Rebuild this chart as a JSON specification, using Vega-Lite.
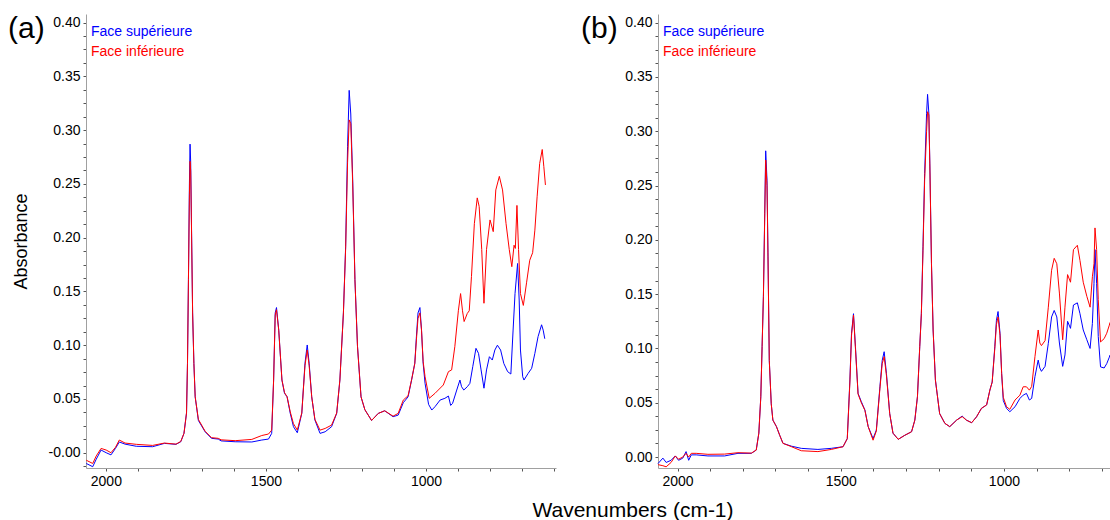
{
"$schema": "https://vega.github.io/schema/vega-lite/v6.json",
"padding": {"left": 8, "top": 14, "right": 0, "bottom": 0},
"config": {
  "font": "Liberation Sans",
  "view": {"stroke": null},
  "axis": {"labelFont": "Liberation Sans", "labelFontSize": 14, "labelColor": "#000000", "titleFont": "Liberation Sans", "titleFontSize": 18, "titleFontWeight": "normal", "titleColor": "#000000", "domainColor": "#a0a0a0", "tickColor": "#555555", "tickSize": 3, "grid": false, "labelOverlap": false, "labelPadding": 3, "labelFlush": false},
  "legend": {"labelFont": "Liberation Sans", "labelFontSize": 14}
},
"title": {"text": "Wavenumbers (cm-1)", "orient": "bottom", "anchor": "middle", "fontSize": 21, "fontWeight": "normal", "font": "Liberation Sans", "color": "#000000", "offset": 12, "dx": 73},
"datasets": {
"a": [
{"s":"Face supérieure","w":2061,"A":-0.010},{"s":"Face supérieure","w":2041,"A":-0.013},{"s":"Face supérieure","w":2030,"A":-0.006},{"s":"Face supérieure","w":2015,"A":0.0025},{"s":"Face supérieure","w":1999,"A":0.000},{"s":"Face supérieure","w":1984,"A":-0.002},{"s":"Face supérieure","w":1970,"A":0.004},{"s":"Face supérieure","w":1958,"A":0.010},{"s":"Face supérieure","w":1940,"A":0.008},{"s":"Face supérieure","w":1905,"A":0.006},{"s":"Face supérieure","w":1854,"A":0.0056},{"s":"Face supérieure","w":1817,"A":0.0087},{"s":"Face supérieure","w":1781,"A":0.0078},{"s":"Face supérieure","w":1766,"A":0.0102},{"s":"Face supérieure","w":1756,"A":0.018},{"s":"Face supérieure","w":1748,"A":0.037},{"s":"Face supérieure","w":1745,"A":0.083},{"s":"Face supérieure","w":1742,"A":0.161},{"s":"Face supérieure","w":1739,"A":0.25},{"s":"Face supérieure","w":1737,"A":0.287},{"s":"Face supérieure","w":1735,"A":0.27},{"s":"Face supérieure","w":1733,"A":0.223},{"s":"Face supérieure","w":1729,"A":0.130},{"s":"Face supérieure","w":1725,"A":0.083},{"s":"Face supérieure","w":1721,"A":0.052},{"s":"Face supérieure","w":1711,"A":0.030},{"s":"Face supérieure","w":1690,"A":0.0195},{"s":"Face supérieure","w":1670,"A":0.0134},{"s":"Face supérieure","w":1649,"A":0.0127},{"s":"Face supérieure","w":1640,"A":0.011},{"s":"Face supérieure","w":1596,"A":0.0102},{"s":"Face supérieure","w":1544,"A":0.0100},{"s":"Face supérieure","w":1513,"A":0.0118},{"s":"Face supérieure","w":1492,"A":0.0127},{"s":"Face supérieure","w":1482,"A":0.018},{"s":"Face supérieure","w":1476,"A":0.0676},{"s":"Face supérieure","w":1471,"A":0.13},{"s":"Face supérieure","w":1467,"A":0.135},{"s":"Face supérieure","w":1460,"A":0.114},{"s":"Face supérieure","w":1450,"A":0.0676},{"s":"Face supérieure","w":1442,"A":0.0552},{"s":"Face supérieure","w":1434,"A":0.0521},{"s":"Face supérieure","w":1424,"A":0.0366},{"s":"Face supérieure","w":1414,"A":0.0242},{"s":"Face supérieure","w":1402,"A":0.0186},{"s":"Face supérieure","w":1388,"A":0.0366},{"s":"Face supérieure","w":1378,"A":0.0833},{"s":"Face supérieure","w":1371,"A":0.1002},{"s":"Face supérieure","w":1365,"A":0.0833},{"s":"Face supérieure","w":1357,"A":0.052},{"s":"Face supérieure","w":1347,"A":0.0304},{"s":"Face supérieure","w":1331,"A":0.018},{"s":"Face supérieure","w":1315,"A":0.0195},{"s":"Face supérieure","w":1295,"A":0.0242},{"s":"Face supérieure","w":1279,"A":0.0366},{"s":"Face supérieure","w":1269,"A":0.0676},{"s":"Face supérieure","w":1258,"A":0.13},{"s":"Face supérieure","w":1251,"A":0.192},{"s":"Face supérieure","w":1245,"A":0.285},{"s":"Face supérieure","w":1240,"A":0.337},{"s":"Face supérieure","w":1235,"A":0.315},{"s":"Face supérieure","w":1229,"A":0.254},{"s":"Face supérieure","w":1222,"A":0.161},{"s":"Face supérieure","w":1214,"A":0.099},{"s":"Face supérieure","w":1203,"A":0.052},{"s":"Face supérieure","w":1191,"A":0.040},{"s":"Face supérieure","w":1170,"A":0.030},{"s":"Face supérieure","w":1149,"A":0.0366},{"s":"Face supérieure","w":1129,"A":0.039},{"s":"Face supérieure","w":1103,"A":0.0335},{"s":"Face supérieure","w":1087,"A":0.035},{"s":"Face supérieure","w":1071,"A":0.0465},{"s":"Face supérieure","w":1056,"A":0.052},{"s":"Face supérieure","w":1045,"A":0.0676},{"s":"Face supérieure","w":1035,"A":0.0833},{"s":"Face supérieure","w":1030,"A":0.108},{"s":"Face supérieure","w":1025,"A":0.13},{"s":"Face supérieure","w":1019,"A":0.135},{"s":"Face supérieure","w":1014,"A":0.114},{"s":"Face supérieure","w":1009,"A":0.0833},{"s":"Face supérieure","w":1003,"A":0.0645},{"s":"Face supérieure","w":992,"A":0.045},{"s":"Face supérieure","w":982,"A":0.0397},{"s":"Face supérieure","w":972,"A":0.0428},{"s":"Face supérieure","w":956,"A":0.049},{"s":"Face supérieure","w":941,"A":0.0506},{"s":"Face supérieure","w":930,"A":0.0527},{"s":"Face supérieure","w":923,"A":0.044},{"s":"Face supérieure","w":917,"A":0.0459},{"s":"Face supérieure","w":904,"A":0.0583},{"s":"Face supérieure","w":894,"A":0.0676},{"s":"Face supérieure","w":889,"A":0.0614},{"s":"Face supérieure","w":882,"A":0.0583},{"s":"Face supérieure","w":871,"A":0.0614},{"s":"Face supérieure","w":863,"A":0.0645},{"s":"Face supérieure","w":854,"A":0.080},{"s":"Face supérieure","w":844,"A":0.0971},{"s":"Face supérieure","w":836,"A":0.0924},{"s":"Face supérieure","w":828,"A":0.077},{"s":"Face supérieure","w":819,"A":0.060},{"s":"Face supérieure","w":811,"A":0.077},{"s":"Face supérieure","w":802,"A":0.0893},{"s":"Face supérieure","w":793,"A":0.0862},{"s":"Face supérieure","w":785,"A":0.0955},{"s":"Face supérieure","w":777,"A":0.100},{"s":"Face supérieure","w":767,"A":0.0955},{"s":"Face supérieure","w":757,"A":0.083},{"s":"Face supérieure","w":745,"A":0.0754},{"s":"Face supérieure","w":735,"A":0.0732},{"s":"Face supérieure","w":728,"A":0.1141},{"s":"Face supérieure","w":722,"A":0.148},{"s":"Face supérieure","w":714,"A":0.176},{"s":"Face supérieure","w":709,"A":0.142},{"s":"Face supérieure","w":705,"A":0.0955},{"s":"Face supérieure","w":698,"A":0.0707},{"s":"Face supérieure","w":694,"A":0.0676},{"s":"Face supérieure","w":681,"A":0.0738},{"s":"Face supérieure","w":670,"A":0.0785},{"s":"Face supérieure","w":660,"A":0.0924},{"s":"Face supérieure","w":650,"A":0.108},{"s":"Face supérieure","w":639,"A":0.119},{"s":"Face supérieure","w":634,"A":0.114},{"s":"Face supérieure","w":629,"A":0.106},
{"s":"Face inférieure","w":2061,"A":-0.007},{"s":"Face inférieure","w":2041,"A":-0.010},{"s":"Face inférieure","w":2030,"A":-0.003},{"s":"Face inférieure","w":2015,"A":0.004},{"s":"Face inférieure","w":1999,"A":0.0025},{"s":"Face inférieure","w":1984,"A":0.000},{"s":"Face inférieure","w":1970,"A":0.005},{"s":"Face inférieure","w":1958,"A":0.0118},{"s":"Face inférieure","w":1940,"A":0.009},{"s":"Face inférieure","w":1905,"A":0.0078},{"s":"Face inférieure","w":1854,"A":0.0068},{"s":"Face inférieure","w":1817,"A":0.0090},{"s":"Face inférieure","w":1781,"A":0.0080},{"s":"Face inférieure","w":1766,"A":0.0105},{"s":"Face inférieure","w":1756,"A":0.018},{"s":"Face inférieure","w":1748,"A":0.037},{"s":"Face inférieure","w":1745,"A":0.083},{"s":"Face inférieure","w":1742,"A":0.161},{"s":"Face inférieure","w":1739,"A":0.24},{"s":"Face inférieure","w":1737,"A":0.271},{"s":"Face inférieure","w":1735,"A":0.262},{"s":"Face inférieure","w":1733,"A":0.22},{"s":"Face inférieure","w":1729,"A":0.130},{"s":"Face inférieure","w":1725,"A":0.083},{"s":"Face inférieure","w":1721,"A":0.052},{"s":"Face inférieure","w":1711,"A":0.031},{"s":"Face inférieure","w":1690,"A":0.020},{"s":"Face inférieure","w":1670,"A":0.014},{"s":"Face inférieure","w":1649,"A":0.0134},{"s":"Face inférieure","w":1640,"A":0.012},{"s":"Face inférieure","w":1596,"A":0.0112},{"s":"Face inférieure","w":1544,"A":0.0124},{"s":"Face inférieure","w":1513,"A":0.016},{"s":"Face inférieure","w":1492,"A":0.0174},{"s":"Face inférieure","w":1482,"A":0.021},{"s":"Face inférieure","w":1476,"A":0.0676},{"s":"Face inférieure","w":1471,"A":0.128},{"s":"Face inférieure","w":1467,"A":0.133},{"s":"Face inférieure","w":1460,"A":0.114},{"s":"Face inférieure","w":1450,"A":0.0676},{"s":"Face inférieure","w":1442,"A":0.056},{"s":"Face inférieure","w":1434,"A":0.052},{"s":"Face inférieure","w":1424,"A":0.038},{"s":"Face inférieure","w":1414,"A":0.027},{"s":"Face inférieure","w":1402,"A":0.0211},{"s":"Face inférieure","w":1388,"A":0.037},{"s":"Face inférieure","w":1378,"A":0.081},{"s":"Face inférieure","w":1371,"A":0.0955},{"s":"Face inférieure","w":1365,"A":0.081},{"s":"Face inférieure","w":1357,"A":0.052},{"s":"Face inférieure","w":1347,"A":0.031},{"s":"Face inférieure","w":1331,"A":0.021},{"s":"Face inférieure","w":1315,"A":0.0226},{"s":"Face inférieure","w":1295,"A":0.0257},{"s":"Face inférieure","w":1279,"A":0.037},{"s":"Face inférieure","w":1269,"A":0.0676},{"s":"Face inférieure","w":1258,"A":0.13},{"s":"Face inférieure","w":1251,"A":0.19},{"s":"Face inférieure","w":1245,"A":0.27},{"s":"Face inférieure","w":1240,"A":0.3095},{"s":"Face inférieure","w":1235,"A":0.306},{"s":"Face inférieure","w":1229,"A":0.25},{"s":"Face inférieure","w":1222,"A":0.161},{"s":"Face inférieure","w":1214,"A":0.099},{"s":"Face inférieure","w":1203,"A":0.052},{"s":"Face inférieure","w":1191,"A":0.040},{"s":"Face inférieure","w":1170,"A":0.030},{"s":"Face inférieure","w":1149,"A":0.0366},{"s":"Face inférieure","w":1129,"A":0.039},{"s":"Face inférieure","w":1103,"A":0.034},{"s":"Face inférieure","w":1087,"A":0.0366},{"s":"Face inférieure","w":1071,"A":0.049},{"s":"Face inférieure","w":1056,"A":0.053},{"s":"Face inférieure","w":1045,"A":0.068},{"s":"Face inférieure","w":1035,"A":0.083},{"s":"Face inférieure","w":1030,"A":0.105},{"s":"Face inférieure","w":1025,"A":0.125},{"s":"Face inférieure","w":1019,"A":0.130},{"s":"Face inférieure","w":1014,"A":0.114},{"s":"Face inférieure","w":1009,"A":0.085},{"s":"Face inférieure","w":1003,"A":0.0707},{"s":"Face inférieure","w":990,"A":0.0506},{"s":"Face inférieure","w":972,"A":0.0552},{"s":"Face inférieure","w":946,"A":0.063},{"s":"Face inférieure","w":930,"A":0.0754},{"s":"Face inférieure","w":920,"A":0.077},{"s":"Face inférieure","w":910,"A":0.0986},{"s":"Face inférieure","w":899,"A":0.132},{"s":"Face inférieure","w":892,"A":0.148},{"s":"Face inférieure","w":886,"A":0.132},{"s":"Face inférieure","w":881,"A":0.122},{"s":"Face inférieure","w":871,"A":0.1296},{"s":"Face inférieure","w":865,"A":0.132},{"s":"Face inférieure","w":858,"A":0.164},{"s":"Face inférieure","w":849,"A":0.213},{"s":"Face inférieure","w":840,"A":0.237},{"s":"Face inférieure","w":834,"A":0.229},{"s":"Face inférieure","w":826,"A":0.189},{"s":"Face inférieure","w":819,"A":0.139},{"s":"Face inférieure","w":811,"A":0.189},{"s":"Face inférieure","w":800,"A":0.2165},{"s":"Face inférieure","w":790,"A":0.2056},{"s":"Face inférieure","w":782,"A":0.2444},{"s":"Face inférieure","w":771,"A":0.257},{"s":"Face inférieure","w":761,"A":0.2444},{"s":"Face inférieure","w":750,"A":0.213},{"s":"Face inférieure","w":740,"A":0.189},{"s":"Face inférieure","w":732,"A":0.173},{"s":"Face inférieure","w":725,"A":0.193},{"s":"Face inférieure","w":721,"A":0.190},{"s":"Face inférieure","w":716,"A":0.230},{"s":"Face inférieure","w":711,"A":0.189},{"s":"Face inférieure","w":705,"A":0.148},{"s":"Face inférieure","w":696,"A":0.137},{"s":"Face inférieure","w":686,"A":0.158},{"s":"Face inférieure","w":676,"A":0.179},{"s":"Face inférieure","w":667,"A":0.186},{"s":"Face inférieure","w":660,"A":0.207},{"s":"Face inférieure","w":653,"A":0.238},{"s":"Face inférieure","w":645,"A":0.269},{"s":"Face inférieure","w":637,"A":0.282},{"s":"Face inférieure","w":632,"A":0.266},{"s":"Face inférieure","w":627,"A":0.249}
],
"b": [
{"s":"Face supérieure","w":2060,"A":-0.006},{"s":"Face supérieure","w":2045,"A":-0.001},{"s":"Face supérieure","w":2035,"A":-0.005},{"s":"Face supérieure","w":2020,"A":-0.003},{"s":"Face supérieure","w":2007,"A":0.001},{"s":"Face supérieure","w":1997,"A":-0.003},{"s":"Face supérieure","w":1984,"A":-0.001},{"s":"Face supérieure","w":1974,"A":0.005},{"s":"Face supérieure","w":1966,"A":-0.003},{"s":"Face supérieure","w":1958,"A":0.002},{"s":"Face supérieure","w":1943,"A":0.002},{"s":"Face supérieure","w":1907,"A":0.001},{"s":"Face supérieure","w":1856,"A":0.001},{"s":"Face supérieure","w":1815,"A":0.0034},{"s":"Face supérieure","w":1774,"A":0.0034},{"s":"Face supérieure","w":1759,"A":0.0064},{"s":"Face supérieure","w":1751,"A":0.022},{"s":"Face supérieure","w":1745,"A":0.0555},{"s":"Face supérieure","w":1741,"A":0.1016},{"s":"Face supérieure","w":1737,"A":0.148},{"s":"Face supérieure","w":1733,"A":0.224},{"s":"Face supérieure","w":1730,"A":0.282},{"s":"Face supérieure","w":1726,"A":0.255},{"s":"Face supérieure","w":1723,"A":0.188},{"s":"Face supérieure","w":1719,"A":0.089},{"s":"Face supérieure","w":1713,"A":0.049},{"s":"Face supérieure","w":1708,"A":0.034},{"s":"Face supérieure","w":1697,"A":0.028},{"s":"Face supérieure","w":1687,"A":0.020},{"s":"Face supérieure","w":1677,"A":0.0126},{"s":"Face supérieure","w":1651,"A":0.010},{"s":"Face supérieure","w":1621,"A":0.008},{"s":"Face supérieure","w":1570,"A":0.007},{"s":"Face supérieure","w":1529,"A":0.008},{"s":"Face supérieure","w":1493,"A":0.0095},{"s":"Face supérieure","w":1480,"A":0.017},{"s":"Face supérieure","w":1472,"A":0.071},{"s":"Face supérieure","w":1467,"A":0.114},{"s":"Face supérieure","w":1461,"A":0.132},{"s":"Face supérieure","w":1455,"A":0.1016},{"s":"Face supérieure","w":1447,"A":0.0586},{"s":"Face supérieure","w":1437,"A":0.051},{"s":"Face supérieure","w":1426,"A":0.0433},{"s":"Face supérieure","w":1416,"A":0.028},{"s":"Face supérieure","w":1401,"A":0.017},{"s":"Face supérieure","w":1391,"A":0.0248},{"s":"Face supérieure","w":1380,"A":0.0647},{"s":"Face supérieure","w":1373,"A":0.089},{"s":"Face supérieure","w":1367,"A":0.097},{"s":"Face supérieure","w":1360,"A":0.077},{"s":"Face supérieure","w":1350,"A":0.040},{"s":"Face supérieure","w":1340,"A":0.022},{"s":"Face supérieure","w":1324,"A":0.0163},{"s":"Face supérieure","w":1304,"A":0.020},{"s":"Face supérieure","w":1283,"A":0.0233},{"s":"Face supérieure","w":1273,"A":0.034},{"s":"Face supérieure","w":1265,"A":0.0555},{"s":"Face supérieure","w":1258,"A":0.1016},{"s":"Face supérieure","w":1253,"A":0.132},{"s":"Face supérieure","w":1248,"A":0.194},{"s":"Face supérieure","w":1243,"A":0.261},{"s":"Face supérieure","w":1237,"A":0.3165},{"s":"Face supérieure","w":1234,"A":0.334},{"s":"Face supérieure","w":1230,"A":0.3165},{"s":"Face supérieure","w":1227,"A":0.270},{"s":"Face supérieure","w":1222,"A":0.178},{"s":"Face supérieure","w":1217,"A":0.117},{"s":"Face supérieure","w":1210,"A":0.071},{"s":"Face supérieure","w":1197,"A":0.040},{"s":"Face supérieure","w":1181,"A":0.031},{"s":"Face supérieure","w":1166,"A":0.028},{"s":"Face supérieure","w":1145,"A":0.034},{"s":"Face supérieure","w":1128,"A":0.0377},{"s":"Face supérieure","w":1115,"A":0.034},{"s":"Face supérieure","w":1099,"A":0.0316},{"s":"Face supérieure","w":1084,"A":0.037},{"s":"Face supérieure","w":1069,"A":0.0448},{"s":"Face supérieure","w":1053,"A":0.048},{"s":"Face supérieure","w":1043,"A":0.0617},{"s":"Face supérieure","w":1036,"A":0.069},{"s":"Face supérieure","w":1028,"A":0.1016},{"s":"Face supérieure","w":1023,"A":0.126},{"s":"Face supérieure","w":1018,"A":0.134},{"s":"Face supérieure","w":1012,"A":0.114},{"s":"Face supérieure","w":1007,"A":0.077},{"s":"Face supérieure","w":1002,"A":0.052},{"s":"Face supérieure","w":992,"A":0.0448},{"s":"Face supérieure","w":982,"A":0.0417},{"s":"Face supérieure","w":966,"A":0.0463},{"s":"Face supérieure","w":951,"A":0.054},{"s":"Face supérieure","w":941,"A":0.057},{"s":"Face supérieure","w":931,"A":0.0586},{"s":"Face supérieure","w":922,"A":0.0525},{"s":"Face supérieure","w":915,"A":0.054},{"s":"Face supérieure","w":905,"A":0.074},{"s":"Face supérieure","w":895,"A":0.0893},{"s":"Face supérieure","w":890,"A":0.082},{"s":"Face supérieure","w":885,"A":0.0789},{"s":"Face supérieure","w":874,"A":0.0835},{"s":"Face supérieure","w":864,"A":0.1047},{"s":"Face supérieure","w":854,"A":0.129},{"s":"Face supérieure","w":846,"A":0.135},{"s":"Face supérieure","w":838,"A":0.129},{"s":"Face supérieure","w":830,"A":0.105},{"s":"Face supérieure","w":820,"A":0.0835},{"s":"Face supérieure","w":813,"A":0.094},{"s":"Face supérieure","w":805,"A":0.125},{"s":"Face supérieure","w":796,"A":0.1185},{"s":"Face supérieure","w":787,"A":0.140},{"s":"Face supérieure","w":775,"A":0.142},{"s":"Face supérieure","w":767,"A":0.132},{"s":"Face supérieure","w":757,"A":0.117},{"s":"Face supérieure","w":746,"A":0.108},{"s":"Face supérieure","w":736,"A":0.100},{"s":"Face supérieure","w":729,"A":0.123},{"s":"Face supérieure","w":724,"A":0.160},{"s":"Face supérieure","w":721,"A":0.191},{"s":"Face supérieure","w":716,"A":0.160},{"s":"Face supérieure","w":711,"A":0.111},{"s":"Face supérieure","w":704,"A":0.083},{"s":"Face supérieure","w":693,"A":0.082},{"s":"Face supérieure","w":685,"A":0.086},{"s":"Face supérieure","w":677,"A":0.092},{"s":"Face supérieure","w":675,"A":0.094},
{"s":"Face inférieure","w":2060,"A":-0.007},{"s":"Face inférieure","w":2045,"A":-0.008},{"s":"Face inférieure","w":2035,"A":-0.009},{"s":"Face inférieure","w":2020,"A":-0.005},{"s":"Face inférieure","w":2007,"A":0.001},{"s":"Face inférieure","w":1997,"A":-0.002},{"s":"Face inférieure","w":1984,"A":0.000},{"s":"Face inférieure","w":1974,"A":0.0034},{"s":"Face inférieure","w":1966,"A":0.000},{"s":"Face inférieure","w":1958,"A":0.0034},{"s":"Face inférieure","w":1943,"A":0.0034},{"s":"Face inférieure","w":1907,"A":0.0025},{"s":"Face inférieure","w":1856,"A":0.0027},{"s":"Face inférieure","w":1815,"A":0.0040},{"s":"Face inférieure","w":1774,"A":0.0036},{"s":"Face inférieure","w":1759,"A":0.0064},{"s":"Face inférieure","w":1751,"A":0.022},{"s":"Face inférieure","w":1745,"A":0.0555},{"s":"Face inférieure","w":1741,"A":0.1016},{"s":"Face inférieure","w":1737,"A":0.148},{"s":"Face inférieure","w":1733,"A":0.22},{"s":"Face inférieure","w":1730,"A":0.2735},{"s":"Face inférieure","w":1726,"A":0.25},{"s":"Face inférieure","w":1723,"A":0.185},{"s":"Face inférieure","w":1719,"A":0.089},{"s":"Face inférieure","w":1713,"A":0.049},{"s":"Face inférieure","w":1708,"A":0.034},{"s":"Face inférieure","w":1697,"A":0.028},{"s":"Face inférieure","w":1687,"A":0.020},{"s":"Face inférieure","w":1677,"A":0.0126},{"s":"Face inférieure","w":1651,"A":0.0095},{"s":"Face inférieure","w":1621,"A":0.0058},{"s":"Face inférieure","w":1570,"A":0.005},{"s":"Face inférieure","w":1529,"A":0.007},{"s":"Face inférieure","w":1493,"A":0.0095},{"s":"Face inférieure","w":1480,"A":0.017},{"s":"Face inférieure","w":1472,"A":0.069},{"s":"Face inférieure","w":1467,"A":0.112},{"s":"Face inférieure","w":1461,"A":0.1308},{"s":"Face inférieure","w":1455,"A":0.1},{"s":"Face inférieure","w":1447,"A":0.058},{"s":"Face inférieure","w":1437,"A":0.050},{"s":"Face inférieure","w":1426,"A":0.043},{"s":"Face inférieure","w":1416,"A":0.028},{"s":"Face inférieure","w":1401,"A":0.0155},{"s":"Face inférieure","w":1391,"A":0.024},{"s":"Face inférieure","w":1380,"A":0.063},{"s":"Face inférieure","w":1373,"A":0.086},{"s":"Face inférieure","w":1367,"A":0.0924},{"s":"Face inférieure","w":1360,"A":0.075},{"s":"Face inférieure","w":1350,"A":0.040},{"s":"Face inférieure","w":1340,"A":0.022},{"s":"Face inférieure","w":1324,"A":0.0163},{"s":"Face inférieure","w":1304,"A":0.020},{"s":"Face inférieure","w":1283,"A":0.0233},{"s":"Face inférieure","w":1273,"A":0.034},{"s":"Face inférieure","w":1265,"A":0.0555},{"s":"Face inférieure","w":1258,"A":0.1016},{"s":"Face inférieure","w":1253,"A":0.132},{"s":"Face inférieure","w":1248,"A":0.19},{"s":"Face inférieure","w":1243,"A":0.255},{"s":"Face inférieure","w":1237,"A":0.30},{"s":"Face inférieure","w":1234,"A":0.318},{"s":"Face inférieure","w":1230,"A":0.315},{"s":"Face inférieure","w":1227,"A":0.268},{"s":"Face inférieure","w":1222,"A":0.178},{"s":"Face inférieure","w":1217,"A":0.117},{"s":"Face inférieure","w":1210,"A":0.071},{"s":"Face inférieure","w":1197,"A":0.040},{"s":"Face inférieure","w":1181,"A":0.031},{"s":"Face inférieure","w":1166,"A":0.028},{"s":"Face inférieure","w":1145,"A":0.034},{"s":"Face inférieure","w":1128,"A":0.0372},{"s":"Face inférieure","w":1115,"A":0.034},{"s":"Face inférieure","w":1099,"A":0.0316},{"s":"Face inférieure","w":1084,"A":0.037},{"s":"Face inférieure","w":1069,"A":0.0448},{"s":"Face inférieure","w":1053,"A":0.048},{"s":"Face inférieure","w":1043,"A":0.0617},{"s":"Face inférieure","w":1036,"A":0.069},{"s":"Face inférieure","w":1028,"A":0.100},{"s":"Face inférieure","w":1023,"A":0.122},{"s":"Face inférieure","w":1018,"A":0.129},{"s":"Face inférieure","w":1012,"A":0.112},{"s":"Face inférieure","w":1007,"A":0.077},{"s":"Face inférieure","w":1002,"A":0.055},{"s":"Face inférieure","w":992,"A":0.0463},{"s":"Face inférieure","w":982,"A":0.0439},{"s":"Face inférieure","w":966,"A":0.0525},{"s":"Face inférieure","w":951,"A":0.057},{"s":"Face inférieure","w":941,"A":0.0647},{"s":"Face inférieure","w":931,"A":0.0647},{"s":"Face inférieure","w":922,"A":0.0616},{"s":"Face inférieure","w":915,"A":0.065},{"s":"Face inférieure","w":905,"A":0.0924},{"s":"Face inférieure","w":895,"A":0.117},{"s":"Face inférieure","w":890,"A":0.105},{"s":"Face inférieure","w":885,"A":0.1026},{"s":"Face inférieure","w":874,"A":0.1072},{"s":"Face inférieure","w":864,"A":0.138},{"s":"Face inférieure","w":854,"A":0.172},{"s":"Face inférieure","w":846,"A":0.183},{"s":"Face inférieure","w":838,"A":0.178},{"s":"Face inférieure","w":830,"A":0.151},{"s":"Face inférieure","w":820,"A":0.108},{"s":"Face inférieure","w":813,"A":0.138},{"s":"Face inférieure","w":805,"A":0.168},{"s":"Face inférieure","w":796,"A":0.161},{"s":"Face inférieure","w":787,"A":0.191},{"s":"Face inférieure","w":775,"A":0.195},{"s":"Face inférieure","w":767,"A":0.181},{"s":"Face inférieure","w":757,"A":0.161},{"s":"Face inférieure","w":746,"A":0.148},{"s":"Face inférieure","w":736,"A":0.138},{"s":"Face inférieure","w":729,"A":0.166},{"s":"Face inférieure","w":724,"A":0.178},{"s":"Face inférieure","w":721,"A":0.211},{"s":"Face inférieure","w":716,"A":0.191},{"s":"Face inférieure","w":711,"A":0.145},{"s":"Face inférieure","w":704,"A":0.106},{"s":"Face inférieure","w":693,"A":0.109},{"s":"Face inférieure","w":685,"A":0.114},{"s":"Face inférieure","w":677,"A":0.1215},{"s":"Face inférieure","w":675,"A":0.124}
]
},
"spacing": 25,
"resolve": {"scale": {"x": "independent", "y": "independent", "color": "independent"}, "legend": {"color": "independent"}},
"hconcat": [
{
  "width": 470, "height": 454,
  "title": {"text": "(a)", "anchor": "start", "frame": "group", "fontSize": 30, "fontWeight": "normal", "font": "Liberation Sans", "color": "#000000", "offset": -30, "dx": -78},
  "data": {"name": "a"},
  "mark": {"type": "line", "strokeWidth": 1},
  "encoding": {
    "x": {"field": "w", "type": "quantitative", "scale": {"domain": [2062, 594], "nice": false, "zero": false},
      "axis": {"title": null, "values": [2000,1900,1800,1700,1600,1500,1400,1300,1200,1100,1000,900,800,700,600], "labelExpr": "datum.value % 500 == 0 ? format(datum.value, 'd') : ''"}},
    "y": {"field": "A", "type": "quantitative", "scale": {"domain": [-0.0142, 0.408], "nice": false, "zero": false},
      "axis": {"title": "Absorbance", "titlePadding": 18, "values": [-0.0125,0,0.0125,0.025,0.0375,0.05,0.0625,0.075,0.0875,0.1,0.1125,0.125,0.1375,0.15,0.1625,0.175,0.1875,0.2,0.2125,0.225,0.2375,0.25,0.2625,0.275,0.2875,0.3,0.3125,0.325,0.3375,0.35,0.3625,0.375,0.3875,0.4],
        "labelExpr": "abs(datum.value*20 - round(datum.value*20)) < 0.001 ? (abs(datum.value) < 0.001 ? '-0.00' : format(datum.value, '.2f')) : ''"}},
    "color": {"field": "s", "type": "nominal", "scale": {"domain": ["Face supérieure", "Face inférieure"], "range": ["#0000ff", "#ff0000"]},
      "legend": {"title": null, "orient": "none", "legendX": -9, "legendY": 11, "symbolSize": 0, "symbolStrokeWidth": 0, "symbolOpacity": 0, "labelOffset": 0, "rowPadding": 6, "padding": 0,
        "encode": {"labels": {"update": {"fill": {"signal": "datum.value === 'Face supérieure' ? '#0000ff' : '#ff0000'"}}}}}}
  }
},
{
  "width": 452, "height": 454,
  "title": {"text": "(b)", "anchor": "start", "frame": "group", "fontSize": 30, "fontWeight": "normal", "font": "Liberation Sans", "color": "#000000", "offset": -30, "dx": -77},
  "data": {"name": "b"},
  "mark": {"type": "line", "strokeWidth": 1},
  "encoding": {
    "x": {"field": "w", "type": "quantitative", "scale": {"domain": [2060, 675], "nice": false, "zero": false},
      "axis": {"title": null, "values": [2000,1900,1800,1700,1600,1500,1400,1300,1200,1100,1000,900,800,700], "labelExpr": "datum.value % 500 == 0 ? format(datum.value, 'd') : ''"}},
    "y": {"field": "A", "type": "quantitative", "scale": {"domain": [-0.0101, 0.408], "nice": false, "zero": false},
      "axis": {"title": null, "values": [0,0.0125,0.025,0.0375,0.05,0.0625,0.075,0.0875,0.1,0.1125,0.125,0.1375,0.15,0.1625,0.175,0.1875,0.2,0.2125,0.225,0.2375,0.25,0.2625,0.275,0.2875,0.3,0.3125,0.325,0.3375,0.35,0.3625,0.375,0.3875,0.4],
        "labelExpr": "abs(datum.value*20 - round(datum.value*20)) < 0.001 ? format(datum.value, '.2f') : ''"}},
    "color": {"field": "s", "type": "nominal", "scale": {"domain": ["Face supérieure", "Face inférieure"], "range": ["#0000ff", "#ff0000"]},
      "legend": {"title": null, "orient": "none", "legendX": -9, "legendY": 11, "symbolSize": 0, "symbolStrokeWidth": 0, "symbolOpacity": 0, "labelOffset": 0, "rowPadding": 6, "padding": 0,
        "encode": {"labels": {"update": {"fill": {"signal": "datum.value === 'Face supérieure' ? '#0000ff' : '#ff0000'"}}}}}}
  }
}
]
}
